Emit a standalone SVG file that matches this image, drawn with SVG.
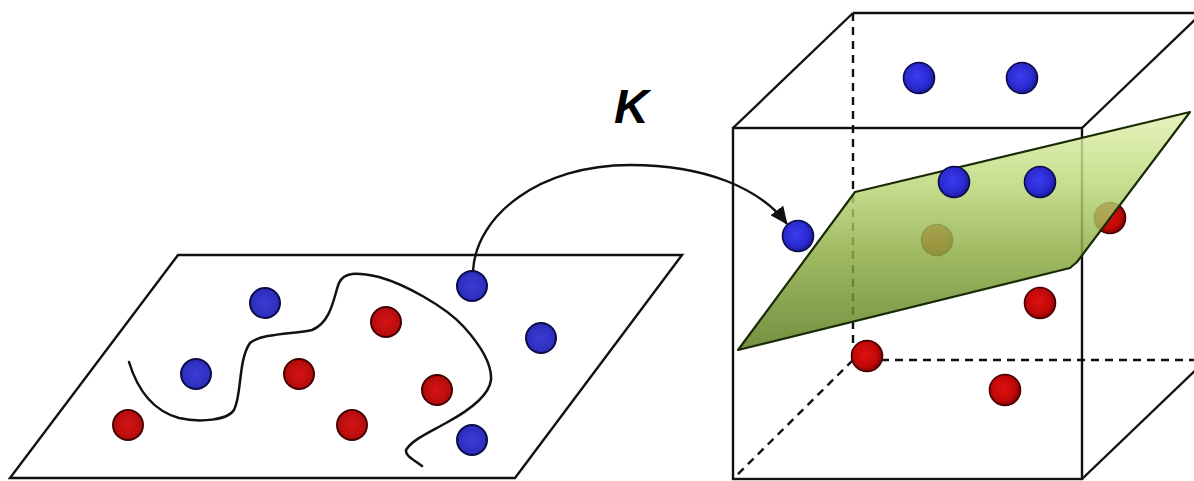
<svg xmlns="http://www.w3.org/2000/svg" width="1194" height="481" viewBox="0 0 1194 481">
  <style>
    .edge{fill:none;stroke:#111;stroke-width:2.4}
    .dash{fill:none;stroke:#111;stroke-width:2.4;stroke-dasharray:8 6}
    .blue{fill:url(#gBlue);stroke:#0b0b45;stroke-width:1.6}
    .red{fill:url(#gRed);stroke:#420000;stroke-width:1.6}
    .fblue{fill:url(#fBlue);stroke:#0b0b45;stroke-width:2}
    .fred{fill:url(#fRed);stroke:#420000;stroke-width:2}
    .curve{fill:none;stroke:#111;stroke-width:2.5;stroke-linecap:round;stroke-linejoin:round}
  </style>
  <defs>
    <radialGradient id="gBlue" cx="0.45" cy="0.45" r="0.6">
      <stop offset="0" stop-color="#3c3cf0"/>
      <stop offset="0.65" stop-color="#2a2ad0"/>
      <stop offset="1" stop-color="#141480"/>
    </radialGradient>
    <radialGradient id="gRed" cx="0.45" cy="0.45" r="0.6">
      <stop offset="0" stop-color="#e01010"/>
      <stop offset="0.65" stop-color="#c00808"/>
      <stop offset="1" stop-color="#700000"/>
    </radialGradient>
    <radialGradient id="fBlue" cx="0.5" cy="0.5" r="0.55">
      <stop offset="0" stop-color="#3c3cd4"/>
      <stop offset="1" stop-color="#2a2ab8"/>
    </radialGradient>
    <radialGradient id="fRed" cx="0.5" cy="0.5" r="0.55">
      <stop offset="0" stop-color="#d41414"/>
      <stop offset="1" stop-color="#b00a0a"/>
    </radialGradient>
    <linearGradient id="gPlane" x1="0" y1="112" x2="0" y2="350" gradientUnits="userSpaceOnUse">
      <stop offset="0" stop-color="#e2f2b0"/>
      <stop offset="0.3" stop-color="#bcd87a"/>
      <stop offset="0.6" stop-color="#8cac44"/>
      <stop offset="1" stop-color="#5a7a1c"/>
    </linearGradient>
    <marker id="arrow" markerWidth="18" markerHeight="16" refX="17" refY="8" orient="auto" markerUnits="userSpaceOnUse">
      <path d="M0,0 L18,8 L0,16 Z" fill="#111"/>
    </marker>
  </defs>

  <g id="input-space">
    <polygon class="edge" points="178,255 682,255 515,478 10,478"/>
    <path class="curve" d="M129,362 C136,385 150,410 179,418 C200,423 228,420 234,410 C242,395 238,360 250,343 C262,333 295,334 312,330 C332,322 334,295 339,283 C344,272 356,272 379,277 C404,284 445,306 464,327 C482,347 492,365 491,380 C489,396 470,410 446,423 C428,433 412,440 406,450 C405,456 414,460 422,466"/>
    <circle class="fblue" cx="265" cy="303" r="15"/>
    <circle class="fblue" cx="196" cy="374" r="15"/>
    <circle class="fblue" cx="472" cy="286" r="15"/>
    <circle class="fblue" cx="541" cy="338" r="15"/>
    <circle class="fblue" cx="472" cy="440" r="15"/>
    <circle class="fred" cx="386" cy="322" r="15"/>
    <circle class="fred" cx="299" cy="374" r="15"/>
    <circle class="fred" cx="437" cy="390" r="15"/>
    <circle class="fred" cx="128" cy="425" r="15"/>
    <circle class="fred" cx="352" cy="425" r="15"/>
  </g>

  <g id="feature-space">
    <line class="dash" x1="853" y1="13" x2="853" y2="360"/>
    <line class="dash" x1="853" y1="360" x2="1194" y2="360"/>
    <line class="dash" x1="853" y1="360" x2="733" y2="479"/>
    <line class="edge" x1="853" y1="13" x2="1194" y2="13"/>
    <line class="edge" x1="733" y1="128" x2="853" y2="13"/>
    <line class="edge" x1="1082" y1="128" x2="1202" y2="13"/>
    <line class="edge" x1="1082" y1="479" x2="1202" y2="364"/>
    <rect class="edge" x="733" y="128" width="349" height="351"/>
    <circle class="red" cx="937" cy="240" r="15.5"/>
    <circle class="red" cx="1110" cy="218" r="15.5"/>
  </g>

  <g id="hyperplane">
    <polygon points="738,350 855,192 1190,112 1077,262 1070,268" fill="url(#gPlane)" fill-opacity="0.84" stroke="#1a2a05" stroke-width="2.2" stroke-linejoin="round"/>
  </g>

  <g id="feature-points">
    <circle class="blue" cx="919" cy="78" r="15.5"/>
    <circle class="blue" cx="1022" cy="78" r="15.5"/>
    <circle class="blue" cx="954" cy="182" r="15.5"/>
    <circle class="blue" cx="1040" cy="182" r="15.5"/>
    <circle class="blue" cx="798" cy="236" r="15.5"/>
    <circle class="red" cx="1040" cy="303" r="15.5"/>
    <circle class="red" cx="867" cy="356" r="15.5"/>
    <circle class="red" cx="1005" cy="390" r="15.5"/>
  </g>

  <g id="connectors">
    <path d="M473,271 C476,215 540,165 630,165 C705,165 760,188 787,224" fill="none" stroke="#111" stroke-width="2.4" marker-end="url(#arrow)"/>
  </g>

  <g id="label">
    <text x="614" y="123" font-family="Liberation Sans, Arial, sans-serif" font-size="48" font-weight="bold" font-style="italic" fill="#000">K</text>
  </g>
</svg>
